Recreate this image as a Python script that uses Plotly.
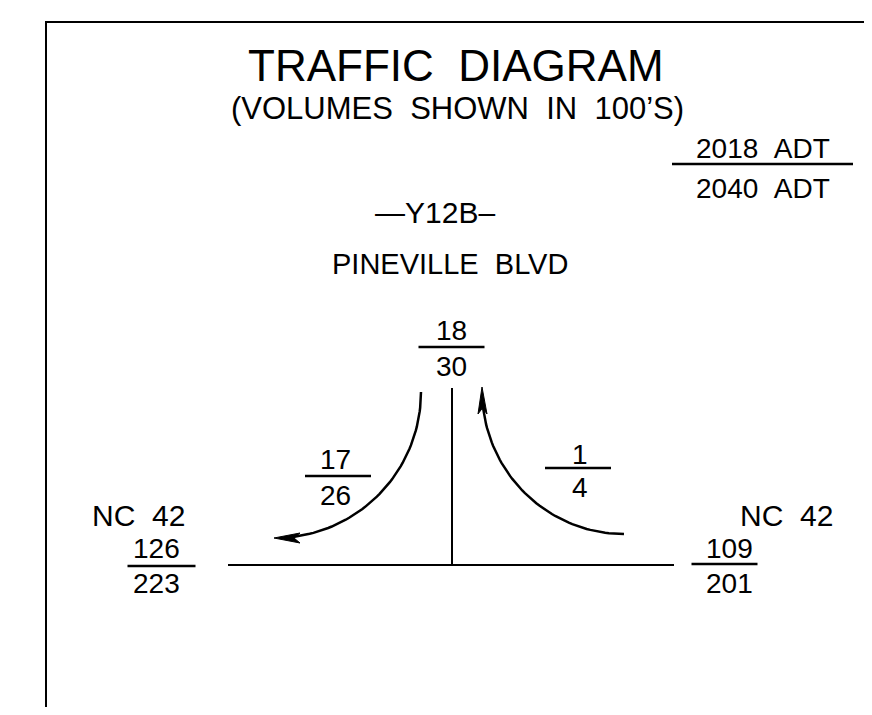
import numpy as np
import plotly.graph_objects as go

FONT = "Liberation Sans"
W, H = 872, 715
PAGE_OFF = 8  # default body margin of the html page

# ---- data (text values) ----
title = "TRAFFIC\u00a0\u00a0DIAGRAM"
subtitle = "(VOLUMES\u00a0\u00a0SHOWN\u00a0\u00a0IN\u00a0\u00a0100\u2019S)"
legend_top = "2018\u00a0\u00a0ADT"
legend_bottom = "2040\u00a0\u00a0ADT"
route_id = "\u2014Y12B\u2013"
route_name = "PINEVILLE\u00a0\u00a0BLVD"
approach_names = ["NC\u00a0\u00a042", "NC\u00a0\u00a042"]

movements = ["north_leg", "left_turn", "right_turn", "west_leg", "east_leg"]
adt_2018 = [18, 17, 1, 126, 109]
adt_2040 = [30, 26, 4, 223, 201]

# ---- layout positions (diagram pixel space) ----
frac_pos = {  # divider centre x, divider y, half-width, text up/down offsets, text x
    "north_leg": (451.5, 347, 33, 17, 19, 451),
    "left_turn": (338, 476, 33, 17, 19, 335),
    "right_turn": (578, 468, 33, 14, 19, 580),
    "west_leg": (161.5, 566, 34, 18, 17, 156),
    "east_leg": (724.5, 564, 33, 16, 19, 729),
}

shapes = []
annotations = []

def txt(x, y, s, size):
    annotations.append(dict(x=x, y=y, xref="x", yref="y", text=s, showarrow=False,
                            xanchor="center", yanchor="middle",
                            font=dict(family=FONT, size=size, color="black")))

def hline(x0, x1, y, w=2.5):
    shapes.append(dict(type="line", xref="x", yref="y", x0=x0, x1=x1, y0=y, y1=y,
                       line=dict(color="black", width=w)))

# frame
shapes.append(dict(type="rect", xref="x", yref="y", x0=46, x1=W + 20, y0=22, y1=H + 20,
                   line=dict(color="black", width=2)))

# titles
txt(456, 65, title, 44)
txt(457, 108, subtitle, 31)

# legend fraction
hline(672, 853, 164)
txt(763, 148, legend_top, 28)
txt(763, 188, legend_bottom, 28)

txt(435, 212, route_id, 30)
txt(450, 264, route_name, 29)

# roads
hline(228, 674, 565, 2)
shapes.append(dict(type="line", xref="x", yref="y", x0=452, x1=452, y0=388, y1=565,
                   line=dict(color="black", width=2)))

# volume fractions
for name, v1, v2 in zip(movements, adt_2018, adt_2040):
    cx, ly, hw, up, dn, tx = frac_pos[name]
    hline(cx - hw, cx + hw, ly)
    txt(tx, ly - up, str(v1), 28)
    txt(tx, ly + dn, str(v2), 28)

txt(138, 515, approach_names[0], 30)
txt(786, 515, approach_names[1], 30)

fig = go.Figure()

# turning movement arcs
t = np.linspace(0, np.pi / 2, 60)
# left turn: centre (275, 392), r=146, from east point down to south point
lx = 275 + 146 * np.cos(t)
ly_ = 392 + 146 * np.sin(t)
fig.add_trace(go.Scatter(x=lx[:-3], y=ly_[:-3], mode="lines",
                         line=dict(color="black", width=2.5), hoverinfo="skip"))
# right turn: from south-east end up to the north leg
rx = 624 - 142 * np.sin(t)
ry = 534 - 144 * (1 - np.cos(t))
fig.add_trace(go.Scatter(x=rx[:-3], y=ry[:-3], mode="lines",
                         line=dict(color="black", width=2.5), hoverinfo="skip"))

# arrowheads (left pointing, up pointing)
shapes.append(dict(type="path", xref="x", yref="y",
                   path="M 274 538 L 300 533 L 294 538 L 300 543 Z",
                   fillcolor="black", line=dict(color="black", width=1)))
shapes.append(dict(type="path", xref="x", yref="y",
                   path="M 482 387 L 478 414 L 482.5 408 L 487 414 Z",
                   fillcolor="black", line=dict(color="black", width=1)))

fig.update_layout(
    width=W - 2 * PAGE_OFF, height=H - 2 * PAGE_OFF, margin=dict(l=0, r=0, t=0, b=0),
    paper_bgcolor="white", plot_bgcolor="white", showlegend=False,
    xaxis=dict(range=[PAGE_OFF, W - PAGE_OFF], visible=False, fixedrange=True),
    yaxis=dict(range=[H - PAGE_OFF, PAGE_OFF], visible=False, fixedrange=True),
    shapes=shapes, annotations=annotations,
)
fig.write_html("out.html")
